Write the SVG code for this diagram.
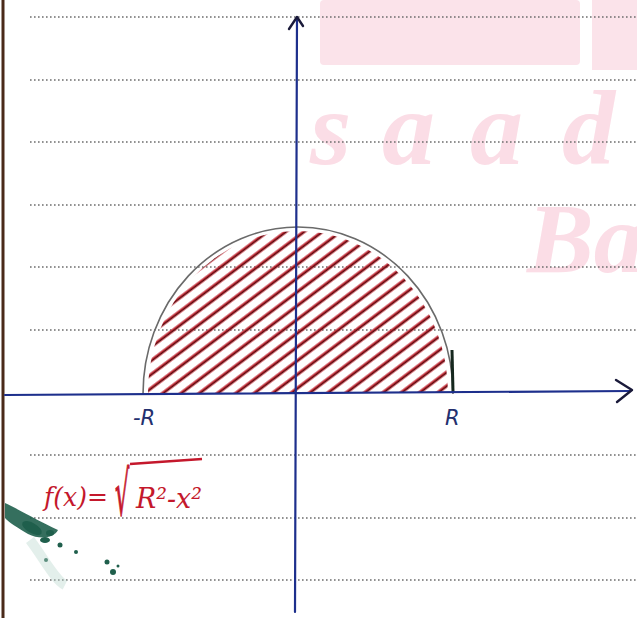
<svg xmlns="http://www.w3.org/2000/svg" width="637" height="618" viewBox="0 0 637 618">
<style>
.dot{stroke:#6e6e6e;stroke-width:1.3;stroke-dasharray:1.6 2.4;fill:none}
.wm{font-family:"Liberation Serif",serif;font-weight:bold;font-style:italic;fill:#fbdde6}
.axis{stroke:#1d2f8c;stroke-width:2.2;fill:none;stroke-linecap:round}
.head{stroke:#1a1a3a;stroke-width:2.4;fill:none;stroke-linecap:round;stroke-linejoin:round}
.lbl{font-family:"DejaVu Sans",sans-serif;font-style:italic;fill:#23306e}
.red{font-family:"DejaVu Serif",serif;font-style:italic;fill:#c4182c}
</style>
<defs>
<pattern id="hatch" width="11" height="11" patternUnits="userSpaceOnUse" patternTransform="rotate(-37)">
<line x1="0" y1="5" x2="11" y2="5" stroke="#c0202c" stroke-width="3.2"/>
<line x1="0" y1="5.4" x2="11" y2="5.4" stroke="#3a0a0a" stroke-width="0.9"/>
</pattern>
<clipPath id="semi">
<path d="M148,393 A150,162 0 0 1 448,393 Z"/>
</clipPath>
</defs>
<rect width="637" height="618" fill="#ffffff"/>
<g id="watermark">
<rect x="320" y="0" width="260" height="65" rx="4" fill="#fbe3ea"/>
<rect x="592" y="0" width="45" height="70" fill="#fbe3ea"/>
<text class="wm" x="310 382 470 562" y="164" font-size="106">saad</text>
<text class="wm" x="527" y="272" font-size="100">Ba</text>
</g>
<g id="ruling">
<line class="dot" x1="30" y1="17" x2="637" y2="17"/>
<line class="dot" x1="30" y1="80" x2="637" y2="80"/>
<line class="dot" x1="30" y1="142" x2="637" y2="142"/>
<line class="dot" x1="30" y1="205" x2="637" y2="205"/>
<line class="dot" x1="30" y1="267" x2="637" y2="267"/>
<line class="dot" x1="30" y1="330" x2="637" y2="330"/>
<line class="dot" x1="30" y1="455" x2="637" y2="455"/>
<line class="dot" x1="30" y1="518" x2="637" y2="518"/>
<line class="dot" x1="30" y1="580" x2="637" y2="580"/>
<line x1="3" y1="0" x2="3" y2="618" stroke="#4a2a1a" stroke-width="3"/>
</g>
<g id="region">
<rect x="140" y="220" width="320" height="180" fill="url(#hatch)" clip-path="url(#semi)"/>
<path d="M143,394 A155,167 0 0 1 453,394" fill="none" stroke="#6a6a6a" stroke-width="1.6"/>
<line x1="452" y1="350" x2="453" y2="392" stroke="#16281e" stroke-width="3"/>
</g>
<g id="axes">
<line class="axis" x1="5" y1="395" x2="630" y2="391"/>
<line class="axis" x1="297" y1="17" x2="295" y2="612"/>
<polyline class="head" points="616,380 632,390 617,402"/>
<polyline class="head" points="289,29 297,17 303,26"/>
</g>
<g id="labels">
<text class="lbl" x="133" y="425" font-size="21">-R</text>
<text class="lbl" x="445" y="425" font-size="21">R</text>
<text class="red" x="44" y="506" font-size="26" textLength="64" lengthAdjust="spacingAndGlyphs">f(x)=</text>
<text class="red" transform="translate(115,515) scale(0.75,2.05)" x="0" y="0" font-size="30" stroke="#c4182c" stroke-width="0.6">√</text>
<line x1="130" y1="464" x2="202" y2="459" stroke="#c4182c" stroke-width="2.4"/>
<text class="red" x="136" y="508" font-size="28" textLength="66" lengthAdjust="spacingAndGlyphs">R²-x²</text>
</g>
<g id="smudge" fill="#1f5f4c">
<path d="M5,503 C20,510 40,522 58,530 C54,538 40,540 28,534 C18,528 8,522 5,518 Z" opacity="0.9"/>
<ellipse cx="32" cy="528" rx="11" ry="5" transform="rotate(30 32 528)"/>
<ellipse cx="45" cy="540" rx="5" ry="3"/>
<ellipse cx="50" cy="533" rx="4" ry="3"/>
<circle cx="60" cy="545" r="2.5"/>
<circle cx="46" cy="560" r="2"/>
<circle cx="76" cy="552" r="2"/>
<circle cx="107" cy="562" r="2.5"/>
<circle cx="113" cy="572" r="3"/>
<circle cx="118" cy="566" r="1.5"/>
<path d="M30,540 C45,560 55,580 65,585" stroke="#b8d6cc" stroke-width="10" fill="none" opacity="0.4"/>
</g>
</svg>
